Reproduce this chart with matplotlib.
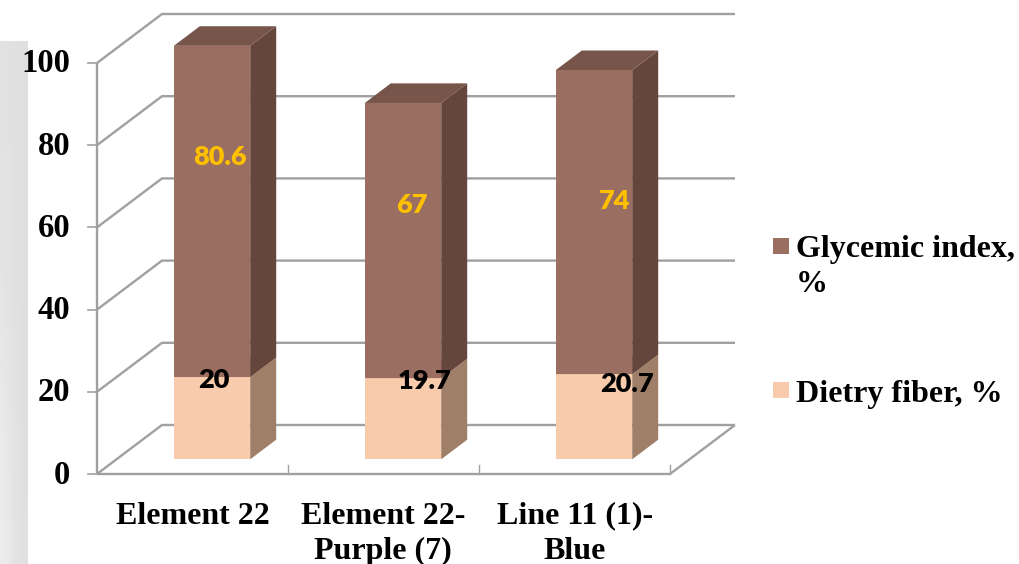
import numpy as np
import matplotlib
matplotlib.use('Agg')
import matplotlib.pyplot as plt
from matplotlib.patches import Polygon, Rectangle

categories = ['Element 22', 'Element 22-\nPurple (7)', 'Line 11 (1)-\nBlue']
dietary_fiber = [20, 19.7, 20.7]
glycemic_index = [80.6, 67, 74]
y_ticks = [0, 20, 40, 60, 80, 100]
legend_labels = ['Glycemic index,\n%', 'Dietry fiber, %']

W, H = 1019, 564
X0, XSCALE = 97, 191    # px of x=0, px per category
Y0, YSCALE = 474, 4.11  # px of y=0, px per unit
DEPTH_X = 65 / XSCALE   # shift of the back wall, in data units
DEPTH_Y = 49 / YSCALE
BAR_WIDTH = 0.4
BAR_DEPTH = (0.3, 0.7)

GRID = '#a0a0a0'
BROWN = ('#9a6e60', '#65463d', '#77554a')  # front, side, top
PEACH = ('#f8cbad', '#a07f69', '#c9a48c')


def px(x, y):
    # pixel position -> data coordinates
    return (x - X0) / XSCALE, (Y0 - y) / YSCALE


def proj(x, y, d):
    # oblique projection of a point at depth d (0 front, 1 back wall)
    return x + d * DEPTH_X, y + d * DEPTH_Y


fig = plt.figure(figsize=(W / 100, H / 100), dpi=100)

# grey panel down the left edge
panel = fig.add_axes([0, 0, 28 / W, (H - 41) / H])
grad = np.array([[0.885, 0.88, 0.875, 0.875],
                 [0.895, 0.885, 0.875, 0.87],
                 [0.925, 0.905, 0.885, 0.875]])
panel.imshow(grad, cmap='gray', vmin=0, vmax=1, aspect='auto', interpolation='bicubic')
panel.axis('off')

ax = fig.add_axes([0, 0, 1, 1])
ax.set_xlim(-X0 / XSCALE, (W - X0) / XSCALE)
ax.set_ylim((Y0 - H) / YSCALE, Y0 / YSCALE)
ax.axis('off')
ax.patch.set_alpha(0)

line_kw = dict(color=GRID, lw=1.7, solid_capstyle='butt', zorder=1)
n = len(categories)

# walls, grid lines, ticks
for v in y_ticks:
    xb, yb = proj(0, v, 1)
    ax.plot([0, xb, n + DEPTH_X], [v, yb, yb], **line_kw)
    ax.plot([-9 / XSCALE, 0], [v, v], color=GRID, lw=1.2, zorder=1)
ax.plot([0, 0], [0, y_ticks[-1]], **line_kw)
ax.plot([0, n], [0, 0], **line_kw)
ax.plot([n, n + DEPTH_X], [0, DEPTH_Y], **line_kw)
for i in range(1, n + 1):
    ax.plot([i, i], [0, 9 / YSCALE], color=GRID, lw=1, zorder=1)


def box(i, lo, hi, colors, z):
    d0, d1 = BAR_DEPTH
    left, right = i + 0.5 - BAR_WIDTH / 2, i + 0.5 + BAR_WIDTH / 2
    fl = proj(left, lo, d0)
    fr = proj(right, lo, d0)
    tl = proj(left, hi, d0)
    tr = proj(right, hi, d0)
    br = proj(right, lo, d1)
    trb = proj(right, hi, d1)
    tlb = proj(left, hi, d1)
    ax.add_patch(Polygon([fl, fr, tr, tl], fc=colors[0], ec='none', zorder=z))
    ax.add_patch(Polygon([fr, br, trb, tr], fc=colors[1], ec='none', zorder=z))
    ax.add_patch(Polygon([tl, tr, trb, tlb], fc=colors[2], ec='none', zorder=z))


for i in range(n):
    box(i, 0, dietary_fiber[i], PEACH, 2)
    box(i, dietary_fiber[i], dietary_fiber[i] + glycemic_index[i], BROWN, 3)

# value labels sit by hand, as they do not follow the segment centres
fiber_label_px = [(214, 380), (424, 381), (627, 384)]
gi_label_px = [(220, 157), (412, 205), (615, 201)]
value_kw = dict(family='Lato', fontweight='heavy', fontsize=19.5, ha='center', va='center', zorder=5)
for v, p in zip(dietary_fiber, fiber_label_px):
    ax.text(*px(*p), f'{v:g}', color='black', **value_kw)
for v, p in zip(glycemic_index, gi_label_px):
    ax.text(*px(*p), f'{v:g}', color='#ffc000', **value_kw)

label_kw = dict(family='Liberation Serif', fontweight='bold', color='black')
for v in y_ticks:
    ax.text(*px(70, Y0 - v * YSCALE + 1), str(v), ha='right', va='center', fontsize=23.5, **label_kw)

cat_px = [193, 383, 575]
for name, x in zip(categories, cat_px):
    ax.text(*px(x, 501.5), name, ha='center', va='top', fontsize=23, linespacing=1.29, **label_kw)

# legend
swatch_w, swatch_h = 16 / XSCALE, 16 / YSCALE
for label, color, sy, ty in zip(legend_labels, [BROWN[0], PEACH[0]], [246, 390], [235, 380]):
    sx_d, sy_d = px(773, sy + 8)
    ax.add_patch(Rectangle((sx_d, sy_d), swatch_w, swatch_h, fc=color, ec='none'))
    ax.text(*px(796, ty), label, ha='left', va='top', fontsize=23, linespacing=1.29, **label_kw)

fig.savefig('out.png', dpi=100)
